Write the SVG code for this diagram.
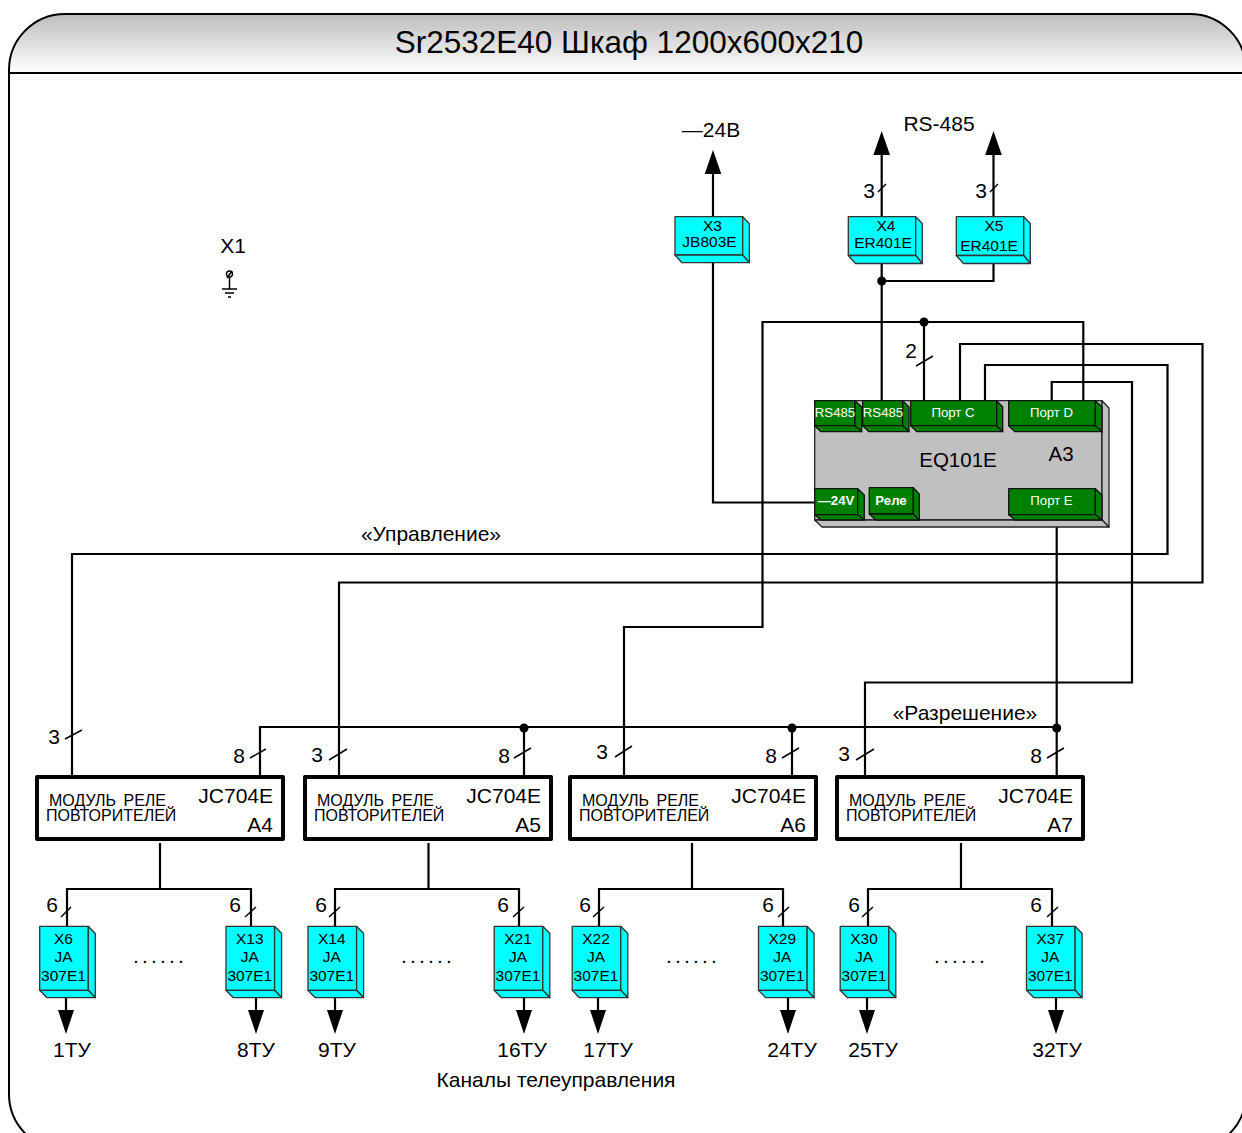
<svg xmlns="http://www.w3.org/2000/svg" xmlns:xlink="http://www.w3.org/1999/xlink" width="1242" height="1133" viewBox="0 0 1242 1133">
<style>
text{font-family:"Liberation Sans",Arial,sans-serif;fill:#000}
.m{text-anchor:middle}
.e{text-anchor:end}
.w{fill:#fff;text-anchor:middle;font-size:13.2px}
.b{font-weight:bold}
.t{font-size:21px}
.s{font-size:15.5px;text-anchor:middle}
.mod{font-size:16px}
.big{font-size:21px;text-anchor:end}
.ln{fill:none;stroke:#000;stroke-width:2.2}
.th{fill:none;stroke:#000;stroke-width:1.5}
.cy{fill:#0ff;stroke:#333;stroke-width:1.3;stroke-linejoin:round}
.gr{fill:#008000;stroke:#111;stroke-width:1.3;stroke-linejoin:round}
.gy{fill:#c0c0c0;stroke:#222;stroke-width:1.3;stroke-linejoin:round}
</style>
<defs>
<linearGradient id="hd" x1="0" y1="0" x2="0" y2="1"><stop offset="0" stop-color="#bdbdbd"/><stop offset="1" stop-color="#fff"/></linearGradient>
<g id="jabox"><path class="cy" d="M39.7 926.3H88.3V990.3H39.7Z"/><path class="cy" d="M88.3 926.3L95.3 933.5V997.7L88.3 990.3Z"/><path class="cy" d="M39.7 990.3H88.3L95.3 997.7H47Z"/></g>
<g id="modbox"><rect x="37" y="777" width="246" height="62" fill="#fff" stroke="#000" stroke-width="4" stroke-linejoin="round"/></g>
<g id="erbox"><path class="cy" d="M848.3 216.7H915.7V255.5H848.3Z"/><path class="cy" d="M915.7 216.7L922.3 223.5V263.5L915.7 255.5Z"/><path class="cy" d="M848.3 255.5H915.7L922.3 263.5H855.5Z"/></g>
<path id="dn" d="M-8 1010H8L0 1034Z" fill="#000"/>
<path id="up" d="M-8.3 24H8.3L0 0Z" fill="#000"/>
</defs>
<g id="frame">
<path d="M9 73V70A56 56 0 0 1 65 14H1190A56 56 0 0 1 1246 70V73Z" fill="url(#hd)"/>
<path d="M9 73H1246M9 73V1094A56 56 0 0 0 65 1150H1190A56 56 0 0 0 1246 1094V70A56 56 0 0 0 1190 14H65A56 56 0 0 0 9 70V73" fill="none" stroke="#000" stroke-width="2"/>
<text x="629" y="53" class="m" font-size="31.5">Sr2532E40 Шкаф 1200x600x210</text>
</g>
<g id="connectors">
<path class="ln" d="M713 263V172M713 263V502.5H815"/>
<path class="ln" d="M881.7 217V153M993.5 217V153M881.7 264V401M881.7 281H993.5V264"/>
<path class="ln" d="M924 322V401M1083.3 401V322H762.5V627H624V775"/>
<path class="ln" d="M960 401V344H1202.5V582.5H339V775"/>
<path class="ln" d="M985 401V365H1167.5V554H72V775"/>
<path class="ln" d="M1051.7 401V382H1132V682.5H865V775"/>
<path class="ln" d="M1056.7 520V775M260 775V727H1056.7M524 727V775M792 727V775"/>
<path class="ln" d="M160 843V889M67 926V889H251V926M428.5 843V889M335 926V889H519V926M692 843V889M599 926V889H783V926M961 843V889M868 926V889H1052V926"/>
<path class="ln" d="M66 998V1012M256 998V1012M335 998V1012M524 998V1012M598 998V1012M788 998V1012M867 998V1012M1056 998V1012"/>
<use href="#up" x="713" y="150"/><use href="#up" x="881.7" y="131"/><use href="#up" x="993.5" y="131"/>
<use href="#dn" x="66"/><use href="#dn" x="256"/><use href="#dn" x="335"/><use href="#dn" x="524"/><use href="#dn" x="598"/><use href="#dn" x="788"/><use href="#dn" x="867"/><use href="#dn" x="1056"/>
<circle cx="881.7" cy="281" r="4.5"/><circle cx="924" cy="322" r="4.5"/><circle cx="524" cy="728" r="4.5"/><circle cx="792" cy="728" r="4.5"/><circle cx="1056.7" cy="728" r="4.5"/>
<path class="th" d="M878 192L886 184M990 192L998 184M916 366L933 356M65 739L82 730M250 758L266 749M329 760L347 749M514 758L531 748M615 757L632 746M782 758L799 748M856 760L874 749M1047 758L1064 748M61 917L71 907M245 917L256 907M329 917L340 907M513 917L524 907M593 917L604 907M778 917L789 907M862 917L873 907M1047 917L1058 907"/>
</g>
<g id="x1">
<text x="233" y="253" class="m t">X1</text>
<circle cx="229.5" cy="274" r="3" fill="none" stroke="#000" stroke-width="1.4"/>
<path class="th" d="M227 278L232 271M229.5 277V289M222 289H237M225 293H234M228 297H231"/>
</g>
<g id="x3">
<path class="cy" d="M675 216.7H742.7V255H675Z"/><path class="cy" d="M742.7 216.7L749.3 223.5V262.7L742.7 255Z"/><path class="cy" d="M675 255H742.7L749.3 262.7H682Z"/>
<text x="712.5" y="231" class="s">X3</text><text x="709.5" y="247" class="s">JB803E</text>
</g>
<g id="x4"><use href="#erbox"/><text x="886" y="231" class="s">X4</text><text x="883" y="248" class="s">ER401E</text></g>
<g id="x5"><use href="#erbox" x="108"/><text x="994" y="231" class="s">X5</text><text x="989" y="251" class="s">ER401E</text></g>
<g id="a3">
<path class="gy" d="M814.7 400.7H1102V520H814.7Z"/><path class="gy" d="M1102 400.7L1109 408V527L1102 520Z"/><path class="gy" d="M814.7 520H1102L1109 527H822Z"/>
<text x="958" y="467" class="m" font-size="20.5">EQ101E</text>
<text x="1061" y="461" class="m" font-size="20.5">A3</text>
</g>
<g id="p-rs485-1"><path class="gr" d="M814.7 400.7H855V425.7H814.7Z"/><path class="gr" d="M855 400.7L861.7 407V431.7L855 425.7Z"/><path class="gr" d="M814.7 425.7H855L861.7 431.7H821Z"/><text x="835" y="417" class="w">RS485</text></g>
<g id="p-rs485-2"><path class="gr" d="M862.7 400.7H902.7V425.7H862.7Z"/><path class="gr" d="M902.7 400.7L909 407V431.7L902.7 425.7Z"/><path class="gr" d="M862.7 425.7H902.7L909 431.7H869Z"/><text x="883" y="417" class="w">RS485</text></g>
<g id="p-c"><path class="gr" d="M910.7 400.7H996.7V425.7H910.7Z"/><path class="gr" d="M996.7 400.7L1002.7 407V431.7L996.7 425.7Z"/><path class="gr" d="M910.7 425.7H996.7L1002.7 431.7H917Z"/><text x="953" y="417" class="w">Порт С</text></g>
<g id="p-d"><path class="gr" d="M1008.7 400.7H1095.3V425.7H1008.7Z"/><path class="gr" d="M1095.3 400.7L1102 407V431.7L1095.3 425.7Z"/><path class="gr" d="M1008.7 425.7H1095.3L1102 431.7H1015Z"/><text x="1051.5" y="417" class="w">Порт D</text></g>
<g id="p-24"><path class="gr" d="M814.7 488.7H857.7V514.7H814.7Z"/><path class="gr" d="M857.7 488.7L864.3 495V520L857.7 514.7Z"/><path class="gr" d="M814.7 514.7H857.7L864.3 520H821Z"/><text x="836" y="505" class="w b">—24V</text></g>
<g id="p-rele"><path class="gr" d="M869.3 487.7H913.3V514H869.3Z"/><path class="gr" d="M913.3 487.7L919.3 494V520L913.3 514Z"/><path class="gr" d="M869.3 514H913.3L919.3 520H876Z"/><text x="891" y="505" class="w b">Реле</text></g>
<g id="p-e"><path class="gr" d="M1008.7 488.7H1095.3V514.7H1008.7Z"/><path class="gr" d="M1095.3 488.7L1102 495V520L1095.3 514.7Z"/><path class="gr" d="M1008.7 514.7H1095.3L1102 520H1015Z"/><text x="1051.5" y="505" class="w">Порт Е</text></g>
<g id="a4"><use href="#modbox"/><text x="49" y="806" class="mod" word-spacing="3">МОДУЛЬ РЕЛЕ</text><text x="46" y="821" class="mod">ПОВТОРИТЕЛЕЙ</text><text x="273" y="803" class="big">JC704E</text><text x="273" y="832" class="big">A4</text></g>
<g id="a5" transform="translate(268 0)"><use href="#modbox"/><text x="49" y="806" class="mod" word-spacing="3">МОДУЛЬ РЕЛЕ</text><text x="46" y="821" class="mod">ПОВТОРИТЕЛЕЙ</text><text x="273" y="803" class="big">JC704E</text><text x="273" y="832" class="big">A5</text></g>
<g id="a6" transform="translate(533 0)"><use href="#modbox"/><text x="49" y="806" class="mod" word-spacing="3">МОДУЛЬ РЕЛЕ</text><text x="46" y="821" class="mod">ПОВТОРИТЕЛЕЙ</text><text x="273" y="803" class="big">JC704E</text><text x="273" y="832" class="big">A6</text></g>
<g id="a7" transform="translate(800 0)"><use href="#modbox"/><text x="49" y="806" class="mod" word-spacing="3">МОДУЛЬ РЕЛЕ</text><text x="46" y="821" class="mod">ПОВТОРИТЕЛЕЙ</text><text x="273" y="803" class="big">JC704E</text><text x="273" y="832" class="big">A7</text></g>
<g id="x6"><use href="#jabox"/><text x="63.5" y="944" class="s">X6</text><text x="63.5" y="962" class="s">JA</text><text x="63.5" y="981" class="s">307E1</text></g>
<g id="x13" transform="translate(186.3 0)"><use href="#jabox"/><text x="63.5" y="944" class="s">X13</text><text x="63.5" y="962" class="s">JA</text><text x="63.5" y="981" class="s">307E1</text></g>
<g id="x14" transform="translate(268.3 0)"><use href="#jabox"/><text x="63.5" y="944" class="s">X14</text><text x="63.5" y="962" class="s">JA</text><text x="63.5" y="981" class="s">307E1</text></g>
<g id="x21" transform="translate(454.5 0)"><use href="#jabox"/><text x="63.5" y="944" class="s">X21</text><text x="63.5" y="962" class="s">JA</text><text x="63.5" y="981" class="s">307E1</text></g>
<g id="x22" transform="translate(532.5 0)"><use href="#jabox"/><text x="63.5" y="944" class="s">X22</text><text x="63.5" y="962" class="s">JA</text><text x="63.5" y="981" class="s">307E1</text></g>
<g id="x29" transform="translate(718.8 0)"><use href="#jabox"/><text x="63.5" y="944" class="s">X29</text><text x="63.5" y="962" class="s">JA</text><text x="63.5" y="981" class="s">307E1</text></g>
<g id="x30" transform="translate(800.5 0)"><use href="#jabox"/><text x="63.5" y="944" class="s">X30</text><text x="63.5" y="962" class="s">JA</text><text x="63.5" y="981" class="s">307E1</text></g>
<g id="x37" transform="translate(986.8 0)"><use href="#jabox"/><text x="63.5" y="944" class="s">X37</text><text x="63.5" y="962" class="s">JA</text><text x="63.5" y="981" class="s">307E1</text></g>
<g id="labels">
<text x="711" y="137" class="m t">—24В</text>
<text x="939" y="131" class="m t">RS-485</text>
<text x="869" y="198" class="m t">3</text><text x="981" y="198" class="m t">3</text>
<text x="911" y="358" class="m t">2</text>
<text x="431" y="541" class="m t">«Управление»</text>
<text x="965" y="720" class="m t">«Разрешение»</text>
<text x="54" y="744" class="m t">3</text><text x="239" y="763" class="m t">8</text>
<text x="317" y="762" class="m t">3</text><text x="504" y="763" class="m t">8</text>
<text x="602" y="759" class="m t">3</text><text x="771" y="763" class="m t">8</text>
<text x="844" y="761" class="m t">3</text><text x="1036" y="763" class="m t">8</text>
<text x="52" y="912" class="m t">6</text><text x="235" y="912" class="m t">6</text><text x="321" y="912" class="m t">6</text><text x="503" y="912" class="m t">6</text><text x="585" y="912" class="m t">6</text><text x="768" y="912" class="m t">6</text><text x="854" y="912" class="m t">6</text><text x="1036" y="912" class="m t">6</text>
<text x="160" y="963" class="m t" letter-spacing="3.2">......</text><text x="428" y="963" class="m t" letter-spacing="3.2">......</text><text x="693" y="963" class="m t" letter-spacing="3.2">......</text><text x="961" y="963" class="m t" letter-spacing="3.2">......</text>
<text x="72" y="1057" class="m t">1ТУ</text><text x="256" y="1057" class="m t">8ТУ</text><text x="337" y="1057" class="m t">9ТУ</text><text x="522" y="1057" class="m t">16ТУ</text><text x="608" y="1057" class="m t">17ТУ</text><text x="792" y="1057" class="m t">24ТУ</text><text x="873" y="1057" class="m t">25ТУ</text><text x="1057" y="1057" class="m t">32ТУ</text>
<text x="556" y="1087" class="m t">Каналы телеуправления</text>
</g>
</svg>
